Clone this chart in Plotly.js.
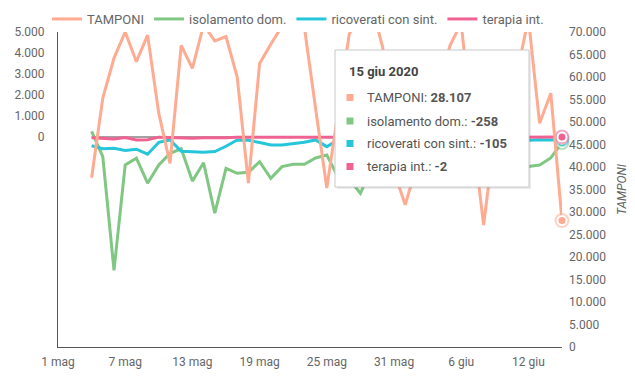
<!DOCTYPE html>
<html><head><meta charset="utf-8">
<script src="https://cdn.plot.ly/plotly-3.0.1.min.js"></script>
<style>html,body{margin:0;padding:0;background:#fff}#chart{width:635px;height:380px}</style>
</head><body><div id="chart"></div>
<script>
const dates = ['2020-05-04','2020-05-05','2020-05-06','2020-05-07','2020-05-08','2020-05-09','2020-05-10',
  '2020-05-11','2020-05-12','2020-05-13','2020-05-14','2020-05-15','2020-05-16','2020-05-17',
  '2020-05-18','2020-05-19','2020-05-20','2020-05-21','2020-05-22','2020-05-23','2020-05-24',
  '2020-05-25','2020-05-26','2020-05-27','2020-05-28','2020-05-29','2020-05-30','2020-05-31',
  '2020-06-01','2020-06-02','2020-06-03','2020-06-04','2020-06-05','2020-06-06','2020-06-07',
  '2020-06-08','2020-06-09','2020-06-10','2020-06-11','2020-06-12','2020-06-13','2020-06-14','2020-06-15'];

const tamponi = [37600,55300,64200,70000,63400,69300,51900,
  40800,67000,61900,71600,68000,69000,60000,
  36400,63000,67300,71300,73000,71000,53000,
  35300,52200,69500,74000,76000,66500,39000,
  31600,40000,55000,58000,67000,72000,48000,
  27100,47000,55000,61000,73000,49700,56400,28107];

const isolamento = [270,-940,-6350,-1330,-1010,-2200,-1330,
  -780,-560,-2100,-1230,-3630,-1490,-1730,
  -1680,-1180,-1970,-1410,-1300,-1300,-1000,
  -860,-1900,-2000,-2680,-1500,-1200,-1700,
  -600,-1000,-1300,-1400,-800,-1200,-700,
  -1100,-1300,-1500,-1250,-1400,-1330,-1000,-258];

const ricoverati = [-414,-560,-540,-640,-580,-820,-250,
  -140,-680,-720,-730,-690,-440,-140,
  -160,-260,-380,-380,-330,-250,-140,
  -460,-130,-300,-250,-280,-350,-200,
  -180,-220,-240,-300,-200,-240,-180,
  -150,-230,-200,-160,-140,-130,-140,-105];

const terapia = [-38,-74,-94,-22,-143,-134,-7,
  -28,-47,-59,-38,-47,-33,-13,
  -13,-33,-40,-36,-45,-23,-19,
  -12,-20,-16,-16,-14,-25,-15,
  -11,-16,-55,-15,-22,-23,-6,
  -4,-20,-14,-13,-9,-7,-11,-2];

const seriesNames = ['TAMPONI','isolamento dom.','ricoverati con sint.','terapia int.'];
const seriesColors = ['#FFAB91','#81C784','#26C6DA','#F06292'];

const xTickVals = ['2020-05-01','2020-05-07','2020-05-13','2020-05-19','2020-05-25','2020-05-31','2020-06-06','2020-06-12'];
const xTickText = ['1 mag','7 mag','13 mag','19 mag','25 mag','31 mag','6 giu','12 giu'];
const yTickVals = [0,1000,2000,3000,4000,5000];
const yTickText = ['0','1.000','2.000','3.000','4.000','5.000'];
const y2TickVals = [0,5000,10000,15000,20000,25000,30000,35000,40000,45000,50000,55000,60000,65000,70000];
const y2TickText = ['0','5.000','10.000','15.000','20.000','25.000','30.000','35.000','40.000','45.000','50.000','55.000','60.000','65.000','70.000'];
const tooltipDate = '15 giu 2020';

function fmt(n){const s=Math.abs(n).toString().replace(/\B(?=(\d{3})+(?!\d))/g,'.');return (n<0?'-':'')+s;}

const W=635,H=380,L=58,R=73,T=32,B=33;
const pw=W-L-R, ph=H-T-B;
const px=x=>(x-L)/pw, py=y=>(H-B-y)/ph;

const allY=[tamponi,isolamento,ricoverati,terapia];
const last=dates.length-1;
const traces=[];
// zero baseline under the series
traces.push({x:[dates[0],dates[last]],y:[0,0],type:'scatter',mode:'lines',showlegend:false,hoverinfo:'skip',
  line:{color:'#444',width:1}});
allY.forEach((arr,i)=>{
  traces.push({x:dates,y:arr,type:'scatter',mode:'lines',name:seriesNames[i],
    yaxis:i===0?'y2':'y',line:{color:seriesColors[i],width:3},hoverinfo:'skip'});
});
[1,2,0,3].forEach(i=>{
  traces.push({x:[dates[last]],y:[allY[i][last]],type:'scatter',mode:'markers',showlegend:false,
    yaxis:i===0?'y2':'y',cliponaxis:false,hoverinfo:'skip',
    marker:{size:15,color:seriesColors[i],opacity:0.55,line:{width:0}}});
  traces.push({x:[dates[last]],y:[allY[i][last]],type:'scatter',mode:'markers',showlegend:false,
    yaxis:i===0?'y2':'y',cliponaxis:false,hoverinfo:'skip',
    marker:{size:9,color:seriesColors[i],line:{width:2,color:'#fff'}}});
});

const gray='#666';
const shapes=[
  {type:'rect',xref:'paper',yref:'paper',x0:px(337),x1:px(531),y0:py(52),y1:py(189),fillcolor:'rgba(0,0,0,0.08)',line:{width:0}},
  {type:'rect',xref:'paper',yref:'paper',x0:px(335),x1:px(529),y0:py(50),y1:py(187),fillcolor:'#fff',line:{width:1,color:'#c8c8c8'}}
];
const rowsY=[97.5,121,143.5,166.5];
const annotations=[
  {xref:'paper',yref:'paper',x:px(347),y:py(71),xanchor:'left',yanchor:'middle',showarrow:false,
   text:'<b>'+tooltipDate+'</b>',font:{family:'Roboto',size:13,color:'#444'}}
];
allY.forEach((arr,i)=>{
  shapes.push({type:'rect',xref:'paper',yref:'paper',x0:px(346.5),x1:px(353.5),y0:py(rowsY[i]-3.5),y1:py(rowsY[i]+3.5),
    fillcolor:seriesColors[i],line:{width:0}});
  annotations.push({xref:'paper',yref:'paper',x:px(365),y:py(rowsY[i]),xanchor:'left',yanchor:'middle',showarrow:false,
    text:seriesNames[i]+': <b>'+fmt(arr[last])+'</b>',font:{family:'Roboto',size:13,color:'#555'}});
});

const layout={
  width:W,height:H,margin:{l:L,r:R,t:T,b:B,autoexpand:false},
  paper_bgcolor:'#fff',plot_bgcolor:'#fff',
  font:{family:'Roboto',size:12,color:gray},
  showlegend:true,
  legend:{orientation:'h',xref:'container',yref:'container',x:47/W,xanchor:'left',y:1-4/H,yanchor:'top',
    font:{family:'Roboto',size:13,color:'#666'},itemwidth:30,bgcolor:'rgba(0,0,0,0)'},
  xaxis:{type:'date',range:['2020-05-01','2020-06-15'],tickvals:xTickVals,ticktext:xTickText,
    showline:true,linecolor:'#555',linewidth:1,showgrid:false,zeroline:false,ticks:'',ticklabelstandoff:4,
    tickfont:{size:12,color:gray}},
  yaxis:{range:[-10000,5000],tickvals:yTickVals,ticktext:yTickText,showline:true,linecolor:'#555',linewidth:1,
    showgrid:false,zeroline:false,ticks:'',ticklabelstandoff:10,
    tickfont:{size:12,color:gray}},
  yaxis2:{overlaying:'y',side:'right',range:[0,70000],tickvals:y2TickVals,ticktext:y2TickText,showline:false,
    showgrid:false,zeroline:false,ticks:'',ticklabelstandoff:6,tickfont:{size:12,color:gray},
    title:{text:'TAMPONI',standoff:12,font:{size:12,color:gray,style:'italic'}}},
  shapes:shapes,annotations:annotations
};
Plotly.newPlot('chart',traces,layout,{displayModeBar:false,staticPlot:true});
</script></body></html>
